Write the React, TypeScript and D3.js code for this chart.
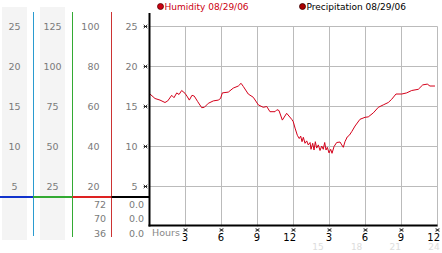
import React from "react";
import * as d3 from "d3";

const W = 442;
const H = 253;

// humidity trace: hour of day, value
const hours = [0.04,0.46,0.875,1.29,1.52,1.85,2.04,2.27,2.46,2.68,2.96,3.12,3.32,3.54,3.73,4.02,4.35,4.57,4.9,5.32,5.73,5.92,6.07,6.57,6.98,7.4,7.63,7.82,8.23,8.65,9.07,9.48,9.77,10.04,10.46,10.62,10.79,11.07,11.43,11.85,11.98,12.13,12.32,12.48,12.6,12.71,12.82,12.96,13.1,13.23,13.38,13.46,13.6,13.71,13.82,13.93,14.07,14.21,14.35,14.48,14.6,14.71,14.82,14.96,15.1,15.21,15.38,15.6,15.875,16.02,16.15,16.29,16.48,16.65,16.85,17.13,17.54,17.96,18.23,18.65,19.07,19.48,19.9,20.18,20.54,21.02,21.43,21.85,22.4,22.77,23.15,23.37,23.79];
const humidity = [16.56,16.0,15.8,15.5,15.7,16.4,16.1,16.7,16.5,17.0,16.65,16.3,15.8,16.4,16.3,15.6,14.85,14.9,15.4,15.7,15.8,16.0,16.7,16.8,17.3,17.56,17.9,17.5,16.56,16.15,15.2,14.9,15.0,14.35,14.35,14.6,14.5,13.3,14.15,13.4,13.1,12.3,11.4,11.0,11.3,10.6,11.15,10.4,10.7,10.2,10.5,9.65,10.4,9.56,10.6,9.8,10.2,9.5,10.06,9.65,10.5,9.56,9.9,9.2,9.65,9.15,10.0,10.5,10.56,10.2,9.9,10.6,11.2,11.4,11.85,12.56,13.4,13.65,13.7,14.2,14.9,15.2,15.5,15.9,16.56,16.56,16.7,17.0,17.15,17.7,17.8,17.56,17.56];

const yTicks = [5, 10, 15, 20, 25];
const col1Labels = ["5", "10", "15", "20", "25"];
const col2Labels = ["25", "50", "75", "100", "125"];
const col3Labels = ["20", "40", "60", "80", "100"];
const col4Labels = ["5", "10", "15", "20", "25"];
const xTicks = [3, 6, 9, 12, 15, 18, 21, 24];
const xTickLabels = ["3", "6", "9", "12", "3", "6", "9", "12"];
const faintTicks = [15, 18, 21, 24];
const lowerLeft = ["72", "70", "36"];
const lowerRight = ["0.0", "0.0", "0.0"];
const legendItems = ["Humidity 08/29/06", "Precipitation 08/29/06"];

const FONT = "DejaVu Sans, Verdana, sans-serif";

function TickMark({ x, y }: { x: number; y: number }) {
  return (
    <g>
      <path
        d={`M${x - 1.8},${y - 1.8}L${x + 1.8},${y + 1.8}M${x + 1.8},${y - 1.8}L${x - 1.8},${y + 1.8}M${x - 1.8},${y}L${x + 1.8},${y}`}
        stroke="#000"
        strokeWidth={0.8}
      />
    </g>
  );
}

export default function App() {
  const x = d3.scaleLinear().domain([0, 24]).range([149.5, 437.5]);
  const y = d3.scaleLinear().domain([0, 25]).range([226.5, 26.5]);
  const xFaint = d3.scaleLinear().domain([0, 24]).range([124.5, 434]);
  const rowY = d3.scalePoint<number>().domain([0, 1, 2]).range([204, 233]);

  const pts: [number, number][] = hours.map((h, i) => [h, humidity[i]]);
  const line = d3
    .line<[number, number]>()
    .x((d) => x(d[0]))
    .y((d) => y(d[1]));

  const gray = "#7a7a7a";
  const grid = "#bbbbbb";

  return (
    <svg
      width={W}
      height={H}
      style={{ position: "absolute", left: 0, top: 0, background: "#fff" }}
      fontFamily={FONT}
    >
      {/* shaded columns */}
      <rect x={2} y={7} width={25} height={233} fill="#f4f4f4" />
      <rect x={40} y={7} width={25} height={233} fill="#f4f4f4" />

      {/* vertical coloured scale lines */}
      <line x1={33.5} x2={33.5} y1={12} y2={236} stroke="#2a9bd0" strokeWidth={1} />
      <line x1={72.5} x2={72.5} y1={12} y2={237} stroke="#33aa33" strokeWidth={1} />
      <line x1={111.5} x2={111.5} y1={12} y2={237} stroke="#cc3333" strokeWidth={1} />

      {/* zero lines of the side scales */}
      <line x1={0} x2={33} y1={197} y2={197} stroke="#1133cc" strokeWidth={2} />
      <line x1={33} x2={72.5} y1={197} y2={197} stroke="#33aa33" strokeWidth={2} />
      <line x1={72.5} x2={111.5} y1={197} y2={197} stroke="#dd2222" strokeWidth={2} />
      <line x1={111.5} x2={149.5} y1={197} y2={197} stroke="#000" strokeWidth={2} />

      {/* side scale labels */}
      <g fontSize={9.5} fill={gray}>
        {yTicks.map((t, i) => (
          <g key={t}>
            <text x={14.5} y={y(t) + 3.5} textAnchor="middle">{col1Labels[i]}</text>
            <text x={52.5} y={y(t) + 3.5} textAnchor="middle">{col2Labels[i]}</text>
            <text x={99.5} y={y(t) + 3.5} textAnchor="end">{col3Labels[i]}</text>
            <text x={137.5} y={y(t) + 3.5} textAnchor="end">{col4Labels[i]}</text>
          </g>
        ))}
        {lowerLeft.map((v, i) => (
          <text key={"l" + i} x={106} y={rowY(i)! + 3.5} textAnchor="end">{v}</text>
        ))}
        {lowerRight.map((v, i) => (
          <text key={"r" + i} x={144} y={rowY(i)! + 3.5} textAnchor="end">{v}</text>
        ))}
      </g>

      {/* grid */}
      {yTicks.map((t) => (
        <line key={"h" + t} x1={x(0)} x2={x(24)} y1={y(t)} y2={y(t)} stroke={grid} strokeWidth={1} />
      ))}
      {xTicks.map((t) => (
        <line key={"v" + t} x1={x(t)} x2={x(t)} y1={y(25)} y2={y(0)} stroke={grid} strokeWidth={1} />
      ))}

      {/* humidity line */}
      <path d={line(pts) || ""} fill="none" stroke="#d4001a" strokeWidth={1} />

      {/* axes */}
      <line x1={149.5} x2={149.5} y1={13} y2={226.5} stroke="#000" strokeWidth={2} />
      <line x1={148.5} x2={437.5} y1={225.5} y2={225.5} stroke="#000" strokeWidth={2} />

      {yTicks.map((t) => (
        <TickMark key={"ym" + t} x={145.5} y={y(t)} />
      ))}
      {xTicks.map((t) => (
        <TickMark key={"xm" + t} x={x(t)} y={230} />
      ))}
      <g fontSize={10} fill="#000">
        {xTicks.map((t, i) => (
          <text key={"xl" + t} x={x(t) + 2.5} y={240.5} textAnchor="end">{xTickLabels[i]}</text>
        ))}
      </g>
      <text x={152} y={236} fontSize={9.5} fill="#888">Hours</text>
      <g fontSize={9} fill="#dddddd">
        {faintTicks.map((t) => (
          <text key={"f" + t} x={xFaint(t)} y={250} textAnchor="middle">{t}</text>
        ))}
      </g>

      {/* legend */}
      <circle cx={160.5} cy={6.5} r={3} fill="#cc0011" stroke="#550000" strokeWidth={0.8} />
      <text x={164.5} y={10} fontSize={9} fill="#cc0011">{legendItems[0]}</text>
      <circle cx={302.5} cy={6.5} r={3} fill="#aa0000" stroke="#330000" strokeWidth={0.8} />
      <text x={306.5} y={10} fontSize={9} fill="#000">{legendItems[1]}</text>
    </svg>
  );
}
